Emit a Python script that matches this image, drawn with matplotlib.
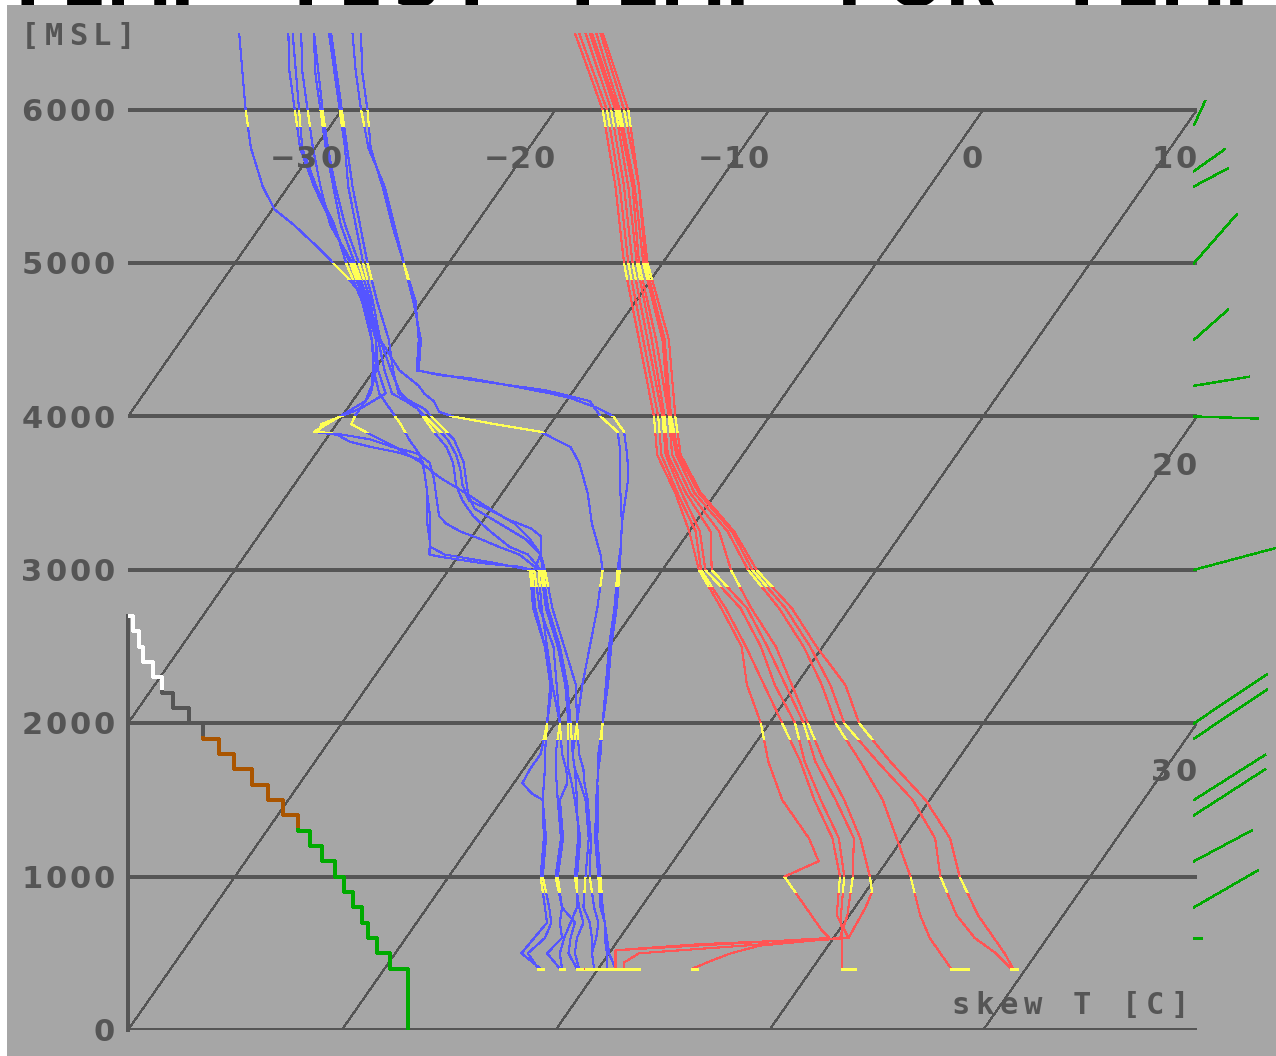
import matplotlib
matplotlib.use("Agg")
import matplotlib.pyplot as plt
from matplotlib.patches import Rectangle
from matplotlib.path import Path
from matplotlib.transforms import Affine2D, IdentityTransform, blended_transform_factory

# ---------------------------------------------------------------------------
# Ensemble temperature profiles: height [m MSL] and temperature [degC].
# The last pair of every member is the surface value at ground level.
# ---------------------------------------------------------------------------
LEV_A = [6500, 6000, 5500, 5000, 4500, 4000, 3750, 3500, 3250, 3000,
         2750, 2500, 2250, 2000, 1750, 1500, 1250]

t01_z = LEV_A + [1100, 1000, 850, 650, 600, 520, 400, 400]
t01_t = [-21.6, -17.8, -14.7, -11.8, -8.6, -5.4, -4.0, -1.9, 0.0, 1.7,
         4.0, 6.2, 7.7, 9.6, 11.2, 13.1, 15.6, 16.8, 15.7, 17.2, 19.2, 19.8,
         10.2, 10.8, 9.4]
t02_z = LEV_A + [1000, 750, 600, 560, 520, 400, 400]
t02_t = [-21.4, -17.6, -14.5, -11.6, -8.4, -5.2, -3.8, -1.8, 0.3, 1.8,
         4.2, 6.4, 8.5, 10.6, 12.7, 14.6, 16.7, 18.3, 19.4, 20.7, 14.0, 10.2,
         10.8, 11.9]
t03_z = LEV_A + [1000, 750, 600, 400, 400]
t03_t = [-21.1, -17.4, -14.3, -11.4, -8.2, -5.0, -3.6, -1.6, 0.5, 2.0,
         4.9, 7.1, 9.0, 11.2, 12.9, 14.9, 17.0, 18.5, 19.6, 20.4, 21.4, 22.0]
t04_z = LEV_A + [1000, 750, 600, 550, 500, 450, 400, 400]
t04_t = [-20.9, -17.2, -14.1, -11.2, -8.0, -4.9, -3.5, -1.4, 1.0, 2.3,
         5.2, 7.4, 9.5, 11.6, 13.4, 15.6, 17.7, 18.9, 19.9, 20.3, 16.8, 15.7,
         15.0, 14.4, 14.6]
t05_z = LEV_A + [1000, 900, 800, 700, 600, 500, 440, 400, 400]
t05_t = [-20.8, -17.1, -13.9, -11.1, -7.8, -4.7, -3.3, -1.2, 1.4, 3.2,
         5.4, 7.8, 9.8, 11.8, 13.8, 16.0, 18.0, 19.7, 20.3, 20.5, 20.6, 20.7,
         11.4, 11.0, 11.2, 11.9]
t06_z = LEV_A + [1000, 750, 600, 500, 400, 400]
t06_t = [-20.6, -17.0, -13.8, -10.9, -7.5, -4.7, -3.1, -1.0, 1.8, 4.0,
         6.7, 9.1, 11.2, 13.1, 15.5, 17.8, 19.7, 21.6, 23.3, 24.5, 25.5,
         26.5, 27.3]
t07_z = LEV_A + [1000, 750, 600, 500, 400, 400]
t07_t = [-20.4, -16.8, -13.6, -10.8, -7.4, -4.6, -3.0, -0.8, 2.0, 4.2,
         7.0, 9.4, 11.6, 13.5, 16.3, 19.2, 21.5, 23.0, 25.0, 26.6, 28.1,
         29.3, 29.4]
t08_z = LEV_A + [1000, 750, 600, 500, 400, 400]
t08_t = [-20.3, -16.6, -13.6, -10.7, -7.2, -4.4, -2.9, -0.7, 2.1, 4.4,
         7.3, 9.7, 12.3, 14.2, 16.9, 19.8, 22.2, 23.9, 26.0, 27.5, 28.5,
         29.4, 29.6]

# ---------------------------------------------------------------------------
# Ensemble dew point profiles: height [m MSL] and dew point [degC].
# ---------------------------------------------------------------------------
LEV_LOW = [2750, 2500, 2250, 2000, 1800, 1700, 1610, 1500, 1250, 1000,
           800, 700, 600, 500, 400, 400]

d01_z = [6500, 6250, 6000, 5750, 5500, 5250, 5000, 4750, 4500, 4300, 4270,
         4250, 4200, 4150, 4120, 4050, 4000, 3900, 3750, 3600, 3500, 3300,
         3150, 3000] + LEV_LOW
d01_t = [-31.6, -30.3, -28.8, -27.4, -25.6, -23.9, -22.1, -20.4, -18.8,
         -17.9, -16.8, -15.3, -13.1, -11.0, -9.9, -8.2, -7.3, -6.3, -5.4,
         -4.6, -4.2, -3.4, -2.7, -2.1,
         -1.0, 0.0, 1.1, 2.2, 3.0, 3.5, 3.9, 4.4, 5.6, 7.0, 8.1, 8.8, 9.3,
         9.9, 10.4, 10.7]
d02_z = [6500, 6250, 6000, 5750, 5500, 5250, 5000, 4750, 4500, 4300, 4240,
         4170, 4130, 4100, 4000, 3900, 3800, 3600, 3300, 3000] + LEV_LOW
d02_t = [-32.0, -30.6, -29.1, -27.5, -25.5, -23.8, -22.1, -20.3, -18.9,
         -18.0, -15.2, -11.3, -9.9, -8.9, -7.9, -6.6, -6.0, -5.0, -3.4, -2.0,
         -0.9, 0.1, 1.2, 2.2, 3.1, 3.5, 3.9, 4.5, 5.7, 7.1, 8.2, 8.8, 9.4,
         10.0, 10.8, 10.9]
d03_z = [6500, 6250, 6000, 5750, 5500, 5250, 5000, 4750, 4500, 4300, 4200,
         4150, 4100, 4030, 4000, 3950, 3900, 3800, 3700, 3500, 3300, 3100,
         3000] + LEV_LOW
d03_t = [-33.1, -31.6, -30.1, -28.6, -27.2, -25.6, -24.0, -22.3, -20.7,
         -18.8, -17.4, -16.9, -16.2, -15.6, -14.8, -12.6, -10.2, -8.3, -7.4,
         -6.0, -4.8, -3.4, -2.8,
         -1.8, -0.9, 0.0, 1.0, 1.8, 2.4, 2.9, 3.5, 4.8, 5.9, 7.1, 7.8, 8.0,
         8.4, 9.1, 9.3]
d04_z = [6500, 6250, 6000, 5750, 5500, 5350, 5250, 5100, 5000, 4900, 4800,
         4600, 4400, 4200, 4100, 4000, 3900, 3880, 3835, 3800, 3763, 3717,
         3700, 3567, 3346, 3100, 3085, 3046, 3020, 3000] + LEV_LOW
d04_t = [-37.3, -35.9, -34.5, -33.0, -31.2, -29.9, -28.5, -26.6, -25.4,
         -24.2, -23.1, -21.7, -20.5, -19.6, -19.4, -20.1, -20.8, -19.6,
         -18.8, -17.6, -16.1, -14.9, -14.7, -13.9, -12.6, -11.4, -10.8,
         -8.8, -6.8, -6.1,
         -4.7, -3.0, -1.5, -0.4, 0.5, 1.0, 1.4, 1.9, 3.2, 4.3, 5.5, 6.1, 6.0,
         5.9, 7.3, 7.4]
d05_z = [6500, 6250, 6000, 5750, 5500, 5250, 5000, 4750, 4500, 4300, 4150,
         4100, 4050, 3950, 3850, 3750, 3650, 3550, 3450, 3400, 3330, 3270,
         3220, 3100, 3000] + LEV_LOW
d05_t = [-34.4, -33.1, -31.6, -30.1, -28.5, -26.8, -24.5, -22.6, -20.8,
         -19.5, -18.4, -17.5, -16.7, -15.5, -14.3, -13.4, -12.7, -12.1,
         -11.3, -10.2, -8.9, -7.5, -6.8, -6.2, -6.0,
         -4.5, -2.6, -1.2, 0.2, 1.0, 1.5, 2.0, 2.6, 4.0, 5.0, 6.3, 6.7, 7.3,
         7.1, 8.2, 8.4]
d06_z = [6500, 6250, 6000, 5750, 5500, 5250, 5000, 4750, 4500, 4300, 4150,
         4050, 3950, 3900, 3880, 3850, 3800, 3760, 3700, 3600, 3450, 3350,
         3300, 3250, 3200, 3150, 3100, 3050, 3000,
         2750, 2500, 2250, 2000, 1800, 1700, 1610, 1540, 1500, 1250, 1000,
         800, 700, 600, 500, 400, 400]
d06_t = [-35.0, -33.7, -32.2, -30.7, -28.8, -26.7, -24.6, -22.7, -20.9,
         -19.8, -18.7, -19.4, -20.7, -20.6, -19.3, -17.9, -16.6, -15.3,
         -14.4, -13.7, -12.8, -12.2, -11.6, -10.7, -9.5, -8.4, -7.2, -6.5,
         -5.8,
         -4.4, -2.9, -1.4, -0.4, 0.3, 0.3, 0.4, 1.2, 1.9, 3.3, 4.4,
         5.7, 6.3, 6.5, 6.2, 7.2, 7.3]
d07_z = [6500, 6250, 6000, 5750, 5500, 5250, 5000, 4750, 4500, 4300, 4150,
         4050, 3900, 3800, 3700, 3550, 3450, 3350, 3250, 3150, 3100,
         3000] + LEV_LOW
d07_t = [-33.8, -32.5, -31.0, -29.5, -27.9, -26.3, -24.4, -22.5, -20.7,
         -19.2, -18.0, -16.7, -15.2, -14.1, -13.3, -12.4, -11.6, -10.6,
         -9.3, -7.9, -6.8, -5.7,
         -4.2, -2.4, -0.8, 0.6, 1.6, 2.1, 2.7, 3.4, 4.9, 6.0, 7.0, 7.2, 7.4,
         7.7, 8.3, 8.4]
d08_z = [6500, 6000, 5750, 5500, 5250, 5000, 4750, 4500, 4300, 4150, 4000,
         3950, 3900, 3800, 3700, 3600, 3500, 3400, 3300, 3200, 3100,
         3000] + LEV_LOW
d08_t = [-33.8, -30.9, -29.4, -27.8, -26.1, -24.2, -22.4, -20.9, -19.9,
         -19.4, -19.4, -19.3, -18.4, -16.5, -14.8, -13.4, -11.7, -10.1, -8.4,
         -7.2, -6.2, -5.6,
         -4.1, -2.3, -0.7, 0.7, 1.8, 2.4, 3.1, 3.9, 5.3, 6.4, 7.3, 8.1, 8.7,
         9.2, 9.8, 10.1]
d09_z = [6500, 6000, 5750, 5500, 5250, 5000, 4750, 4500, 4300, 4150, 4050,
         3950, 3850, 3750, 3650, 3500, 3300, 3150, 3100, 3050,
         3000] + LEV_LOW
d09_t = [-34.8, -32.0, -30.6, -28.7, -26.6, -24.8, -22.8, -21.1, -20.0,
         -19.0, -18.0, -17.0, -16.1, -15.1, -14.4, -13.5, -12.5, -11.6,
         -10.7, -8.3, -6.2,
         -4.8, -3.0, -1.4, 0.2, 1.3, 2.0, 2.5, 2.7, 4.1, 5.1, 6.3, 7.4, 7.7,
         8.1, 9.0, 9.1]
d10_z = [6500, 6000, 5750, 5500, 5250, 5000, 4750, 4500, 4300, 4150, 4100,
         4050, 3950, 3850, 3700, 3500, 3400, 3300, 3200, 3100,
         3000] + LEV_LOW
d10_t = [-33.0, -30.0, -28.5, -27.0, -25.4, -23.8, -22.1, -20.3, -19.1,
         -18.1, -17.3, -16.4, -15.2, -14.0, -12.8, -11.6, -10.8, -9.1, -7.4,
         -6.2, -5.5,
         -3.9, -2.1, -0.3, 1.0, 2.1, 2.8, 3.3, 4.0, 5.4, 6.6, 7.8, 8.5, 8.9,
         9.2, 9.8, 10.5]

# Wind sticks at the right margin: height [m], u / v components [m/s]
wind_z = [5900, 5600, 5500, 5000, 4500, 4200, 4000, 3000, 2000, 1900,
          1500, 1400, 1100, 800, 600]
wind_u = [3.7, 10.3, 11.3, 14.3, 11.3, 18.3, 21.3, 30.0, 24.3, 24.3,
          23.7, 23.7, 19.3, 21.3, 2.3]
wind_v = [8.0, 7.3, 6.0, 16.3, 10.0, 3.0, -0.7, 8.0, 16.3, 16.3,
          15.0, 15.3, 10.3, 12.3, 0.0]

# Terrain hypsometry: area share [%] for each 100 m elevation band
terrain_levels = [2700, 2600, 2500, 2400, 2300, 2200, 2100, 2000, 1900,
                  1800, 1700, 1600, 1500, 1400, 1300, 1200, 1100, 1000,
                  900, 800, 700, 600, 500, 400, 0]
terrain_share = [0.50, 1.06, 1.38, 2.31, 3.15, 4.24, 5.71, 7.04, 8.54,
                 9.94, 11.57, 13.07, 14.53, 15.93, 17.03, 18.12, 19.36,
                 20.21, 21.08, 21.92, 22.48, 23.32, 24.51, 26.22]

height_ticks = [0, 1000, 2000, 3000, 4000, 5000, 6000]
isotherm_temps = [-30, -20, -10, 0, 10, 20, 30]

temperature_members = [(t01_z, t01_t), (t02_z, t02_t), (t03_z, t03_t),
                       (t04_z, t04_t), (t05_z, t05_t), (t06_z, t06_t),
                       (t07_z, t07_t), (t08_z, t08_t)]
dewpoint_members = [(d01_z, d01_t), (d02_z, d02_t), (d03_z, d03_t),
                    (d04_z, d04_t), (d05_z, d05_t), (d06_z, d06_t),
                    (d07_z, d07_t), (d08_z, d08_t), (d09_z, d09_t),
                    (d10_z, d10_t)]

TITLE = "TEMP TEST TEMP FOR TEMP"

# ---------------------------------------------------------------------------
W, H, DPI = 1276, 1056, 100
BG = "#a6a6a6"
INK = "#555555"
RED = "#ff5555"
BLUE = "#5555ff"
YELLOW = "#ffff55"
GREEN = "#00aa00"
BROWN = "#aa5500"
SKEW = 1.0 / 200.0          # degC of skew per metre
X_MIN, X_MAX = -10, 40
Z_TOP = 6500

fig = plt.figure(figsize=(W / DPI, H / DPI), dpi=DPI, facecolor="white")

# title line in fixed cells; the sheet below covers all but its lowest strip
TITLE_ADV = W / len(TITLE)
for i, ch in enumerate(TITLE):
    if ch == " ":
        continue
    fig.text((i + 0.5) * TITLE_ADV, H - 6, ch, transform=IdentityTransform(),
             ha="center", va="baseline", fontsize=48, family="DejaVu Sans",
             weight="bold", color="black", zorder=-10)
fig.patches.append(Rectangle((7 / W, 0), 1 - 7 / W, 1 - 5 / H,
                             transform=fig.transFigure, facecolor=BG,
                             edgecolor="none", zorder=-5))

ax = fig.add_axes([128 / W, 26 / H, 1069 / W, 997 / H])
ax.set_xlim(X_MIN, X_MAX)
ax.set_ylim(0, Z_TOP)
ax.axis("off")

# skew-T: x = T + z * SKEW
skew = Affine2D.from_values(1, 0, SKEW, 1, 0, 0) + ax.transData
blend = blended_transform_factory(ax.transAxes, ax.transData)

LW = 0.8

# height grid
for h in height_ticks:
    ax.plot([X_MIN, X_MAX], [h, h], color=INK, lw=1.45, antialiased=False,
            solid_capstyle="butt", zorder=2)

# skewed isotherms up to 6000 m
for t in isotherm_temps:
    ax.plot([t, t], [0, 6000], transform=skew, color=INK, lw=LW,
            antialiased=False, zorder=2)

# left frame piece along the terrain curve
ax.plot([X_MIN, X_MIN], [0, terrain_levels[0]], color=INK, lw=1.45,
        antialiased=False, clip_on=False, zorder=3)


def rect_path(x0, x1, y0, y1):
    return Path([(x0, y0), (x1, y0), (x1, y1), (x0, y1), (x0, y0)],
                [Path.MOVETO, Path.LINETO, Path.LINETO, Path.LINETO,
                 Path.CLOSEPOLY])


# terrain hypsometric curve, coloured by elevation
hx, hz = [0.0], [terrain_levels[0]]
for i, s in enumerate(terrain_share):
    hx += [s / 100.0, s / 100.0]
    hz += [terrain_levels[i], terrain_levels[i + 1]]
for col, lo, hi in [("white", 2215, 2900), (INK, 1915, 2215),
                    (BROWN, 1315, 1915), (GREEN, -100, 1315)]:
    ln, = ax.plot(hx, hz, transform=blend, color=col, lw=1.45,
                  antialiased=False, zorder=4)
    ln.set_clip_path(rect_path(-0.05, 1.05, lo, hi), blend)

# yellow marker bands just below each 1000 m level
bands = Path.make_compound_path(*[rect_path(X_MIN - 5, X_MAX + 5, k * 1000 - 110, k * 1000)
                                  for k in range(1, 7)])


def draw_member(z, t, color, zo):
    ax.plot(t, z, transform=skew, color=color, lw=LW, antialiased=False,
            zorder=zo)
    yl, = ax.plot(t, z, transform=skew, color=YELLOW, lw=LW,
                  antialiased=False, zorder=zo + 0.5)
    yl.set_clip_path(bands, ax.transData)
    ax.plot(t[-2:], z[-2:], transform=skew, color=YELLOW, lw=LW,
            antialiased=False, zorder=zo + 0.5)


for z, t in dewpoint_members:
    draw_member(z, t, BLUE, 5)
for z, t in temperature_members:
    draw_member(z, t, RED, 6)

# wind sticks from the right edge
PX_PER_MS = 3.0
for z, u, v in zip(wind_z, wind_u, wind_v):
    x0, y0 = blend.transform((1.0, z))
    x0 -= 3
    ax.plot([x0, x0 + u * PX_PER_MS], [y0, y0 + v * PX_PER_MS],
            transform=IdentityTransform(), color=GREEN, lw=1.0,
            antialiased=False, clip_on=False, zorder=7)

# fixed-cell label text (digits in the proportional face, letters monospaced)
FS = 22
EM = FS * DPI / 72.0
CAP = 0.729 * EM


def cell_text(x_right, y_mid, s, adv=24.0, color=INK):
    n = len(s)
    for i, ch in enumerate(s):
        if ch == " ":
            continue
        cx = x_right - adv * (n - i - 0.5)
        fam = "DejaVu Sans" if (ch.isdigit() or ch == "\u2212") else "DejaVu Sans Mono"
        fig.text(cx, y_mid - CAP / 2, ch, transform=IdentityTransform(),
                 ha="center", va="baseline", fontsize=FS,
                 family=fam, weight="bold", color=color)


for h in height_ticks:
    _, yh = ax.transData.transform((X_MIN, h))
    cell_text(116, yh, str(h))

for t in isotherm_temps:
    z_exit = min(6000, (X_MAX - t) / SKEW)
    px, py = ax.transData.transform((t + z_exit * SKEW, z_exit))
    cell_text(px + 1, py - 47, str(t).replace("-", "\u2212"))

cell_text(18 + 5 * 24, H - 34, "[MSL]")
cell_text(1192, H - 1003, "skew T [C]", adv=24.4)

fig.savefig("out.png", dpi=DPI, facecolor="white")
